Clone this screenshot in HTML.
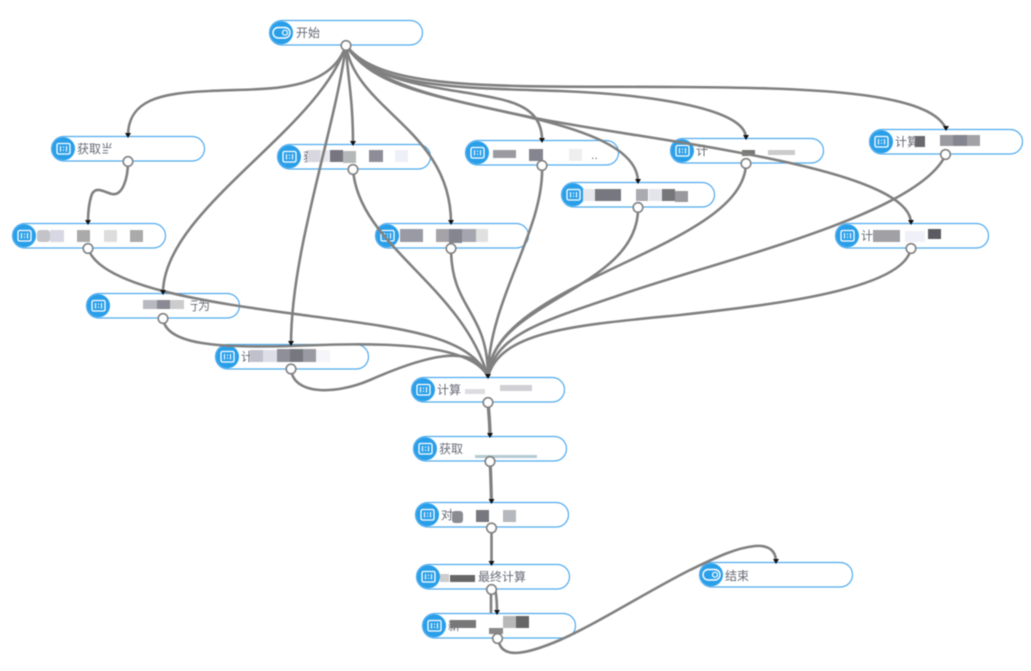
<!DOCTYPE html>
<html><head><meta charset="utf-8">
<style>
html,body{margin:0;padding:0;background:#fff;width:1031px;height:671px;overflow:hidden}
svg{display:block;filter:blur(0.5px)}
text{font-family:"Liberation Sans","Noto Sans CJK SC",sans-serif;font-size:12px;fill:#666a75}
.e{fill:none;stroke:#808080;stroke-width:2.600}
.a{fill:#111}
.p{stroke:none}
</style></head>
<body>
<svg width="1031" height="671" viewBox="0 0 1031 671" xmlns="http://www.w3.org/2000/svg">
<defs>
<g id="n">
<rect x="0.5" y="0.5" width="153" height="24.500" rx="12.200" fill="#fff" stroke="#4fabee" stroke-width="1.200"/>
<circle cx="12.500" cy="12.700" r="11.500" fill="#2a9fe9"/>
<rect x="6" y="7.500" width="13" height="10.500" rx="1.500" fill="none" stroke="#fff" stroke-width="1.300"/>
<path d="M9.500 10v5.500M15.500 10v5.500M12.500 10.500v1.400M12.500 13.500v1.400" stroke="#fff" stroke-width="1.100" fill="none"/>
</g>
<g id="s">
<rect x="0.5" y="0.5" width="153" height="24.500" rx="12.200" fill="#fff" stroke="#4fabee" stroke-width="1.200"/>
<circle cx="12.500" cy="12.700" r="11.500" fill="#2a9fe9"/>
<rect x="4" y="7.500" width="17" height="10.500" rx="5.200" fill="none" stroke="#fff" stroke-width="1.400"/>
<circle cx="16" cy="12.700" r="2.500" fill="none" stroke="#fff" stroke-width="1.200"/>
</g>
</defs>

<use href="#s" x="269" y="20"/><text x="296" y="37">开始</text>
<use href="#n" x="51" y="136"/><text x="77" y="153">获取当</text>
<use href="#n" x="277" y="144"/><text x="303" y="161">获</text>
<use href="#n" x="465" y="140"/><text x="591" y="159">..</text>
<use href="#n" x="670" y="138"/><text x="696" y="155">计</text>
<use href="#n" x="869" y="129"/><text x="895" y="146">计算</text>
<use href="#n" x="561" y="182"/>
<use href="#n" x="12" y="223"/>
<use href="#n" x="375" y="223"/>
<use href="#n" x="835" y="223"/><text x="861" y="240">计</text>
<use href="#n" x="86" y="293"/><text x="186" y="310">行为</text>
<use href="#n" x="215" y="344"/><text x="241" y="361">计</text>
<use href="#n" x="411" y="377"/><text x="437" y="394">计算</text>
<use href="#n" x="413" y="436"/><text x="439" y="453">获取</text>
<use href="#n" x="415" y="502"/><text x="441" y="519">对</text>
<use href="#n" x="416" y="564"/><text x="478" y="581">最终计算</text>
<use href="#n" x="422" y="613"/><text x="448" y="630">新</text>
<use href="#s" x="699" y="562"/><text x="725" y="580">结束</text>

<!-- obscured label patches -->
<g class="p">
<rect x="108" y="148" width="8" height="10" fill="#fff"/>
<rect x="308" y="150" width="12" height="12" fill="#d8d6de"/><rect x="320" y="150" width="10" height="12" fill="#e8e8ee"/><rect x="330" y="150" width="13" height="12" fill="#77757f"/><rect x="343" y="151" width="13" height="12" fill="#b5b8b8"/><rect x="369" y="150" width="14" height="12" fill="#8e8d97"/><rect x="395" y="150" width="13" height="12" fill="#eef0f8"/>
<rect x="493" y="150" width="23" height="8" fill="#9a9aa0"/><rect x="529" y="149" width="14" height="12" fill="#85858f"/><rect x="569" y="149" width="13" height="12" fill="#eeeeee"/>
<rect x="742" y="150" width="13" height="6" fill="#777772"/><rect x="768" y="150" width="27" height="5" fill="#cccccc"/>
<rect x="915" y="136" width="10" height="11" fill="#68686e"/><rect x="940" y="135" width="13" height="11" fill="#9a9aa0"/><rect x="953" y="135" width="14" height="11" fill="#85858f"/><rect x="967" y="135" width="13" height="11" fill="#a2a2a6"/>
<rect x="583" y="189" width="12" height="12" fill="#e8e8ec"/><rect x="595" y="189" width="26" height="12" fill="#777780"/><rect x="636" y="189" width="12" height="12" fill="#aaaab0"/><rect x="649" y="189" width="13" height="12" fill="#e4e4ec"/><rect x="662" y="189" width="13" height="12" fill="#77777a"/><rect x="675" y="191" width="13" height="11" fill="#9a9a9e"/>
<rect x="37" y="230" width="13" height="12" rx="3" fill="#c4c4c8"/><rect x="50" y="230" width="14" height="12" fill="#d8d8e4"/><rect x="77" y="230" width="13" height="12" fill="#aaaaaa"/><rect x="104" y="230" width="13" height="12" fill="#dddddd"/><rect x="130" y="230" width="13" height="12" fill="#aaaaaa"/>
<rect x="400" y="229" width="23" height="13" fill="#9a9aa5"/><rect x="436" y="229" width="13" height="13" fill="#a5a3a8"/><rect x="449" y="229" width="13" height="14" fill="#85858f"/><rect x="462" y="229" width="14" height="13" fill="#a5a5b0"/><rect x="476" y="229" width="12" height="13" fill="#e0e0e0"/>
<rect x="873" y="230" width="27" height="12" fill="#a0a0a5"/><rect x="905" y="231" width="20" height="11" fill="#f0f0f8"/><rect x="928" y="229" width="13" height="10" fill="#5a5a60"/>
<rect x="143" y="300" width="14" height="9" fill="#b8b8c0"/><rect x="157" y="300" width="13" height="9" fill="#8a8a95"/><rect x="170" y="300" width="14" height="9" fill="#cccccc"/><rect x="184" y="299" width="6" height="13" fill="#fff"/>
<rect x="250" y="350" width="13" height="12" fill="#c0c0cc"/><rect x="263" y="350" width="14" height="12" fill="#dedee8"/><rect x="277" y="349" width="13" height="13" fill="#8f8f98"/><rect x="290" y="349" width="13" height="13" fill="#77777f"/><rect x="303" y="349" width="13" height="13" fill="#9a9aa2"/><rect x="316" y="350" width="14" height="12" fill="#f5f5fa"/>
<rect x="465" y="389" width="20" height="5" fill="#dcdce2"/><rect x="500" y="385" width="32" height="6" fill="#cfcfd4"/>
<rect x="475" y="455" width="62" height="3" fill="#b4cbd3"/>
<rect x="452" y="511" width="11" height="12" rx="3" fill="#8a8a92"/><rect x="476" y="510" width="13" height="12" fill="#77777f"/><rect x="503" y="510" width="13" height="12" fill="#b5b8bd"/>
<rect x="440" y="574" width="9" height="8" fill="#cccccc"/><rect x="450" y="575" width="25" height="7" fill="#666666"/>
<rect x="450" y="620" width="26" height="8" fill="#777777"/><rect x="489" y="628" width="14" height="6" fill="#888888"/><rect x="503" y="616" width="13" height="12" fill="#b8b8b8"/><rect x="516" y="616" width="13" height="12" fill="#666666"/>
</g>

<!-- connectors from start -->
<path class="e" d="M346 45C330 95 260 88 210 91C160 93 128 100 128 136"/>
<path class="e" d="M346 45C320 130 163 210 163 293"/>
<path class="e" d="M346 45C335 130 291 250 291 344"/>
<path class="e" d="M346 45C347 75 353 95 353 144"/>
<path class="e" d="M346 45C355 110 451 130 451 223"/>
<path class="e" d="M346 45C370 85 450 88 495 98C525 104 542 115 542 140"/>
<path class="e" d="M346 45C370 90 480 88 560 91C660 95 746 110 746 138"/>
<path class="e" d="M346 45C380 92 500 86 680 87C800 88 930 90 946 129"/>
<path class="e" d="M346 45C370 85 430 95 510 113C590 130 638 150 638 182"/>
<path class="e" d="M346 45C370 85 450 100 530 117C640 140 910 165 911 223"/>
<!-- second tier -->
<path class="e" d="M128 161C128 180 122 196 112 194C104 192 96 186 92 194C89 202 88 212 88 223"/>
<path class="e" d="M353 169C358 245 462 285 488 377"/>
<path class="e" d="M451 248C451 310 488 310 488 377"/>
<path class="e" d="M542 165C545 230 488 300 488 377"/>
<path class="e" d="M638 207C640 290 490 300 488 377"/>
<path class="e" d="M746 163C745 250 490 280 488 377"/>
<path class="e" d="M946 154C920 215 720 260 620 295C540 322 495 335 488 377"/>
<path class="e" d="M911 248C905 290 770 305 680 315C580 325 500 330 488 377"/>
<path class="e" d="M88 248C100 290 230 305 310 316C400 328 470 335 488 377"/>
<path class="e" d="M163 318C165 345 220 348 290 346C370 343 470 340 488 377"/>
<path class="e" d="M291 369C293 395 335 395 370 380C420 358 475 340 488 377"/>
<!-- main column -->
<path class="e" style="stroke-width:3.400" d="M488 402C489 415 490 425 490 436"/>
<path class="e" style="stroke-width:3.200" d="M490 461C491 475 491 490 491.500 502"/>
<path class="e" d="M491.500 527L491.500 564"/>
<path class="e" d="M491 589L491 613"/>
<path class="e" d="M495 589C497 597 497 605 497 613"/>
<path class="e" d="M498 638C500 660 525 655 560 640C600 622 650 590 690 570C715 558 735 548 755 546C768 545 776 550 776 562"/>

<!-- arrowheads -->
<g class="a">
<path d="M125 133h6l-3 5z"/><path d="M350 141h6l-3 5z"/><path d="M539 138h6l-3 5z"/><path d="M743 135h6l-3 5z"/><path d="M943 126h6l-3 5z"/><path d="M635 179h6l-3 5z"/><path d="M85 220h6l-3 5z"/><path d="M448 220h6l-3 5z"/><path d="M908 220h6l-3 5z"/><path d="M160 290h6l-3 5z"/><path d="M288 341h6l-3 5z"/><path d="M485 374h6l-3 5z"/><path d="M487 433h6l-3 5z"/><path d="M488.500 499h6l-3 5z"/><path d="M488.500 561h6l-3 5z"/><path d="M494 610h6l-3 5z"/><path d="M773 559h6l-3 5z"/>
</g>

<!-- ports -->
<g fill="#fff" stroke="#808080" stroke-width="1.600">
<circle cx="346" cy="45.500" r="4.800"/><circle cx="128" cy="161.500" r="4.800"/><circle cx="353" cy="169.500" r="4.800"/><circle cx="542" cy="165.500" r="4.800"/><circle cx="746" cy="163.500" r="4.800"/><circle cx="945.500" cy="154.500" r="4.800"/><circle cx="638" cy="207.500" r="4.800"/><circle cx="88" cy="248.500" r="4.800"/><circle cx="451" cy="248.500" r="4.800"/><circle cx="911" cy="248.500" r="4.800"/><circle cx="163" cy="318.500" r="4.800"/><circle cx="291" cy="369" r="4.800"/><circle cx="488" cy="402.500" r="4.800"/><circle cx="490" cy="461.500" r="4.800"/><circle cx="491.500" cy="528" r="4.800"/><circle cx="491.500" cy="589.500" r="4.800"/><circle cx="497.500" cy="638.500" r="4.800"/>
</g>
</svg>
</body></html>
